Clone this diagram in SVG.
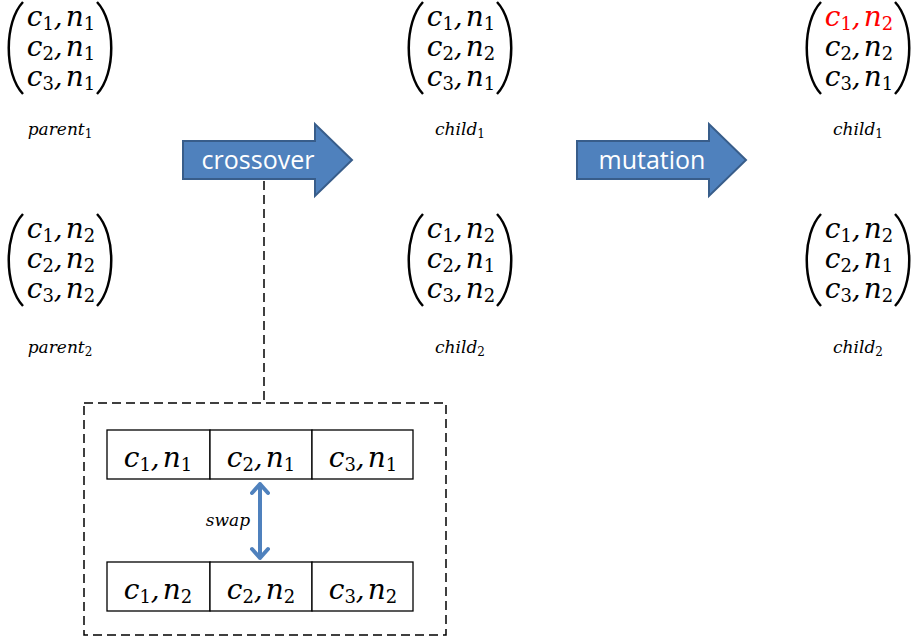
<svg xmlns="http://www.w3.org/2000/svg" width="912" height="639" viewBox="0 0 912 639">
<style>
.m{font-family:"DejaVu Serif","Liberation Serif",serif;font-style:italic;font-size:28px;fill:#000}
.s{font-style:normal;font-size:18px}
.lbl{font-family:"DejaVu Serif","Liberation Serif",serif;font-style:italic;font-size:17px;fill:#000}
.ls{font-style:normal;font-size:12px}
.par{fill:none;stroke:#000;stroke-width:2.5}
.arr{fill:#4F81BD;stroke:#385D8A;stroke-width:2}
.at{font-family:"Open Sans","Liberation Sans",sans-serif;font-size:25px;fill:#fff}
.cell{fill:#fff;stroke:#000;stroke-width:1.3}
.dash{fill:none;stroke:#000;stroke-width:1.5;stroke-dasharray:9 5}
.red{fill:#FF0000}
</style>
<defs>
<g id="parens">
<path class="par" d="M23,2 C4,22 4,74 23,94"/>
<path class="par" d="M97,2 C116,22 116,74 97,94"/>
</g>
</defs>

<g id="parent1">
<use href="#parens"/>
<text class="m" x="61" y="26" text-anchor="middle">c<tspan class="s" dy="4">1</tspan><tspan dy="-4">,</tspan><tspan dx="3">n</tspan><tspan class="s" dy="4">1</tspan></text>
<text class="m" x="61" y="56" text-anchor="middle">c<tspan class="s" dy="4">2</tspan><tspan dy="-4">,</tspan><tspan dx="3">n</tspan><tspan class="s" dy="4">1</tspan></text>
<text class="m" x="61" y="86" text-anchor="middle">c<tspan class="s" dy="4">3</tspan><tspan dy="-4">,</tspan><tspan dx="3">n</tspan><tspan class="s" dy="4">1</tspan></text>
<text class="lbl" x="60" y="135" text-anchor="middle">parent<tspan class="ls" dy="3">1</tspan></text>
</g>

<g id="parent2" transform="translate(0,212)">
<use href="#parens"/>
<text class="m" x="61" y="26" text-anchor="middle">c<tspan class="s" dy="4">1</tspan><tspan dy="-4">,</tspan><tspan dx="3">n</tspan><tspan class="s" dy="4">2</tspan></text>
<text class="m" x="61" y="56" text-anchor="middle">c<tspan class="s" dy="4">2</tspan><tspan dy="-4">,</tspan><tspan dx="3">n</tspan><tspan class="s" dy="4">2</tspan></text>
<text class="m" x="61" y="86" text-anchor="middle">c<tspan class="s" dy="4">3</tspan><tspan dy="-4">,</tspan><tspan dx="3">n</tspan><tspan class="s" dy="4">2</tspan></text>
<text class="lbl" x="60" y="141" text-anchor="middle">parent<tspan class="ls" dy="3">2</tspan></text>
</g>

<g id="child1" transform="translate(400,0)">
<use href="#parens"/>
<text class="m" x="61" y="26" text-anchor="middle">c<tspan class="s" dy="4">1</tspan><tspan dy="-4">,</tspan><tspan dx="3">n</tspan><tspan class="s" dy="4">1</tspan></text>
<text class="m" x="61" y="56" text-anchor="middle">c<tspan class="s" dy="4">2</tspan><tspan dy="-4">,</tspan><tspan dx="3">n</tspan><tspan class="s" dy="4">2</tspan></text>
<text class="m" x="61" y="86" text-anchor="middle">c<tspan class="s" dy="4">3</tspan><tspan dy="-4">,</tspan><tspan dx="3">n</tspan><tspan class="s" dy="4">1</tspan></text>
<text class="lbl" x="60" y="135" text-anchor="middle">child<tspan class="ls" dy="3">1</tspan></text>
</g>

<g id="child2" transform="translate(400,212)">
<use href="#parens"/>
<text class="m" x="61" y="26" text-anchor="middle">c<tspan class="s" dy="4">1</tspan><tspan dy="-4">,</tspan><tspan dx="3">n</tspan><tspan class="s" dy="4">2</tspan></text>
<text class="m" x="61" y="56" text-anchor="middle">c<tspan class="s" dy="4">2</tspan><tspan dy="-4">,</tspan><tspan dx="3">n</tspan><tspan class="s" dy="4">1</tspan></text>
<text class="m" x="61" y="86" text-anchor="middle">c<tspan class="s" dy="4">3</tspan><tspan dy="-4">,</tspan><tspan dx="3">n</tspan><tspan class="s" dy="4">2</tspan></text>
<text class="lbl" x="60" y="141" text-anchor="middle">child<tspan class="ls" dy="3">2</tspan></text>
</g>

<g id="mchild1" transform="translate(798,0)">
<use href="#parens"/>
<text class="m red" x="61" y="26" text-anchor="middle">c<tspan class="s" dy="4">1</tspan><tspan dy="-4">,</tspan><tspan dx="3">n</tspan><tspan class="s" dy="4">2</tspan></text>
<text class="m" x="61" y="56" text-anchor="middle">c<tspan class="s" dy="4">2</tspan><tspan dy="-4">,</tspan><tspan dx="3">n</tspan><tspan class="s" dy="4">2</tspan></text>
<text class="m" x="61" y="86" text-anchor="middle">c<tspan class="s" dy="4">3</tspan><tspan dy="-4">,</tspan><tspan dx="3">n</tspan><tspan class="s" dy="4">1</tspan></text>
<text class="lbl" x="60" y="135" text-anchor="middle">child<tspan class="ls" dy="3">1</tspan></text>
</g>

<g id="mchild2" transform="translate(798,212)">
<use href="#parens"/>
<text class="m" x="61" y="26" text-anchor="middle">c<tspan class="s" dy="4">1</tspan><tspan dy="-4">,</tspan><tspan dx="3">n</tspan><tspan class="s" dy="4">2</tspan></text>
<text class="m" x="61" y="56" text-anchor="middle">c<tspan class="s" dy="4">2</tspan><tspan dy="-4">,</tspan><tspan dx="3">n</tspan><tspan class="s" dy="4">1</tspan></text>
<text class="m" x="61" y="86" text-anchor="middle">c<tspan class="s" dy="4">3</tspan><tspan dy="-4">,</tspan><tspan dx="3">n</tspan><tspan class="s" dy="4">2</tspan></text>
<text class="lbl" x="60" y="141" text-anchor="middle">child<tspan class="ls" dy="3">2</tspan></text>
</g>

<g id="crossover">
<path class="arr" d="M183,141 H315 V124 L352,160 L315,196 V179 H183 Z"/>
<text class="at" x="258" y="169" text-anchor="middle">crossover</text>
</g>

<g id="mutation">
<path class="arr" d="M577,141 H709 V124 L746,160 L709,196 V179 H577 Z"/>
<text class="at" x="652" y="169" text-anchor="middle">mutation</text>
</g>

<g id="connectors">
<line class="dash" x1="264" y1="181" x2="264" y2="403"/>
<path fill="none" stroke="#4F81BD" stroke-width="4" stroke-linecap="round" stroke-linejoin="round" d="M260,484 V558 M252,493 L260,484 L268,493 M252,549 L260,558 L268,549"/>
</g>

<g id="swapbox">
<rect class="dash" x="84" y="403" width="362" height="232"/>
<rect class="cell" x="107" y="430" width="103" height="49"/>
<rect class="cell" x="210" y="430" width="102" height="49"/>
<rect class="cell" x="312" y="430" width="101" height="49"/>
<rect class="cell" x="107" y="562" width="103" height="49"/>
<rect class="cell" x="210" y="562" width="102" height="49"/>
<rect class="cell" x="312" y="562" width="101" height="49"/>
<text class="m" x="158" y="467" text-anchor="middle">c<tspan class="s" dy="4">1</tspan><tspan dy="-4">,</tspan><tspan dx="3">n</tspan><tspan class="s" dy="4">1</tspan></text>
<text class="m" x="261" y="467" text-anchor="middle">c<tspan class="s" dy="4">2</tspan><tspan dy="-4">,</tspan><tspan dx="3">n</tspan><tspan class="s" dy="4">1</tspan></text>
<text class="m" x="363" y="467" text-anchor="middle">c<tspan class="s" dy="4">3</tspan><tspan dy="-4">,</tspan><tspan dx="3">n</tspan><tspan class="s" dy="4">1</tspan></text>
<text class="m" x="158" y="599" text-anchor="middle">c<tspan class="s" dy="4">1</tspan><tspan dy="-4">,</tspan><tspan dx="3">n</tspan><tspan class="s" dy="4">2</tspan></text>
<text class="m" x="261" y="599" text-anchor="middle">c<tspan class="s" dy="4">2</tspan><tspan dy="-4">,</tspan><tspan dx="3">n</tspan><tspan class="s" dy="4">2</tspan></text>
<text class="m" x="363" y="599" text-anchor="middle">c<tspan class="s" dy="4">3</tspan><tspan dy="-4">,</tspan><tspan dx="3">n</tspan><tspan class="s" dy="4">2</tspan></text>
<text class="lbl" x="228" y="526" text-anchor="middle">swap</text>
</g>
</svg>
